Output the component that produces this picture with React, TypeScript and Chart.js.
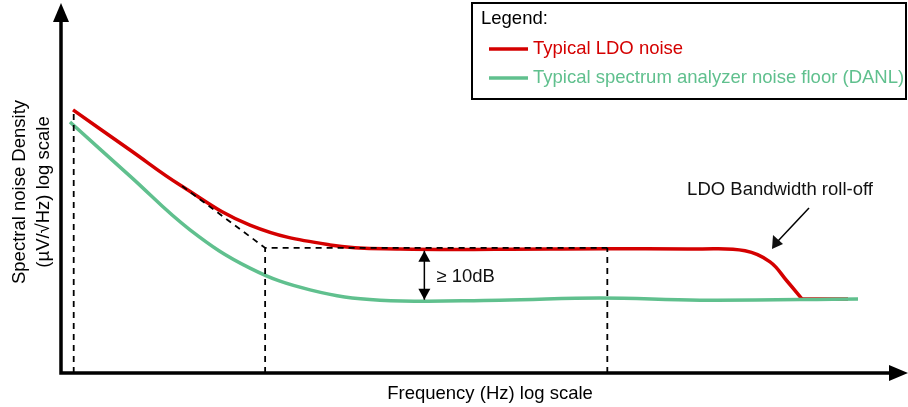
import React, { useEffect, useRef } from "react";
import { Chart, registerables } from "chart.js";

Chart.register(...registerables);

// Relative positions (log frequency, log noise density), 0..100 axis units
const ldoX = [1.42, 8.15, 14.05, 22.31, 31.76, 40.02, 57.73, 75.44, 80.76, 83.71, 85.71, 87.49, 92.92];
const ldoY = [71.5, 60.6, 51.1, 40.2, 34.8, 33.7, 33.7, 33.7, 33.2, 30.2, 25.0, 20.1, 20.1];
const danlX = [1.06, 8.15, 15.23, 22.31, 29.4, 37.66, 51.83, 63.64, 75.44, 94.1];
const danlY = [68.2, 53.5, 38.9, 28.5, 22.6, 19.8, 19.8, 20.4, 19.8, 20.1];

// Guide (dashed) lines
const guideStartX = [1.5, 1.5];
const guideStartY = [0, 71.5];
const guideAsymX = [14.3, 24.1, 64.5];
const guideAsymY = [50.8, 34.0, 34.0];
const guideCornerX = [24.1, 24.1];
const guideCornerY = [0, 34.0];
const guideEndX = [64.5, 64.5];
const guideEndY = [0, 34.0];
const marginX = [42.9, 42.9];
const marginY = [33.2, 19.9];

const seriesLabels = ["Typical LDO noise", "Typical spectrum analyzer noise floor (DANL)"];
const RED = "rgb(212,0,0)";
const GREEN = "rgb(96,192,142)";
const FONT = "'Liberation Sans', Arial, sans-serif";

const pts = (xs: number[], ys: number[]) => xs.map((x, i) => ({ x, y: ys[i] }));

export default function App() {
  const ref = useRef<HTMLCanvasElement | null>(null);
  useEffect(() => {
    document.body.style.margin = "0";
    const dash = (xs: number[], ys: number[]) => ({
      data: pts(xs, ys),
      borderColor: "#000",
      borderWidth: 1.8,
      borderDash: [6, 5],
      pointRadius: 0,
      tension: 0,
      fill: false,
    });
    const decor = {
      id: "decor",
      afterDatasetsDraw(chart: any) {
        const ctx = chart.ctx;
        const { left, bottom } = chart.chartArea;
        const xs = chart.scales.x;
        const ys = chart.scales.y;
        ctx.save();
        // axes
        ctx.strokeStyle = "#000";
        ctx.fillStyle = "#000";
        ctx.lineWidth = 3.5;
        ctx.beginPath();
        ctx.moveTo(left, 20);
        ctx.lineTo(left, bottom);
        ctx.lineTo(892, bottom);
        ctx.stroke();
        ctx.beginPath();
        ctx.moveTo(left, 3);
        ctx.lineTo(left - 8, 22);
        ctx.lineTo(left + 8, 22);
        ctx.closePath();
        ctx.fill();
        ctx.beginPath();
        ctx.moveTo(908, bottom);
        ctx.lineTo(889, bottom - 8);
        ctx.lineTo(889, bottom + 8);
        ctx.closePath();
        ctx.fill();
        // margin arrow heads
        const ax = xs.getPixelForValue(marginX[0]);
        const ay1 = ys.getPixelForValue(marginY[0]);
        const ay2 = ys.getPixelForValue(marginY[1]);
        ctx.beginPath();
        ctx.moveTo(ax, ay1);
        ctx.lineTo(ax - 6, ay1 + 11);
        ctx.lineTo(ax + 6, ay1 + 11);
        ctx.closePath();
        ctx.fill();
        ctx.beginPath();
        ctx.moveTo(ax, ay2);
        ctx.lineTo(ax - 6, ay2 - 11);
        ctx.lineTo(ax + 6, ay2 - 11);
        ctx.closePath();
        ctx.fill();
        ctx.font = `18.5px ${FONT}`;
        ctx.textBaseline = "middle";
        ctx.textAlign = "left";
        ctx.fillStyle = "#111";
        ctx.fillText("≥ 10dB", ax + 12, (ay1 + ay2) / 2 + 2);
        // roll-off annotation
        ctx.textAlign = "center";
        ctx.fillText("LDO Bandwidth roll-off", 780, 190);
        ctx.lineWidth = 1.5;
        ctx.beginPath();
        ctx.moveTo(809, 208);
        ctx.lineTo(778, 241);
        ctx.stroke();
        ctx.beginPath();
        ctx.moveTo(772, 249);
        ctx.lineTo(773, 235);
        ctx.lineTo(783, 244);
        ctx.closePath();
        ctx.fill();
        // axis titles
        ctx.fillStyle = "#000";
        ctx.fillText("Frequency (Hz) log scale", 490, 394);
        ctx.save();
        ctx.translate(20, 192);
        ctx.rotate(-Math.PI / 2);
        ctx.fillText("Spectral noise Density", 0, 0);
        ctx.fillText("(µV/√Hz) log scale", 0, 24);
        ctx.restore();
        // legend box
        ctx.lineWidth = 2;
        ctx.strokeStyle = "#000";
        ctx.fillStyle = "#fff";
        ctx.fillRect(472, 3, 434, 96);
        ctx.strokeRect(472, 3, 434, 96);
        ctx.textAlign = "left";
        ctx.fillStyle = "#000";
        ctx.fillText("Legend:", 481, 19);
        const cols = [RED, GREEN];
        [49, 78].forEach((yy, i) => {
          ctx.strokeStyle = cols[i];
          ctx.lineWidth = 3.5;
          ctx.beginPath();
          ctx.moveTo(489, yy);
          ctx.lineTo(528, yy);
          ctx.stroke();
          ctx.fillStyle = cols[i];
          ctx.fillText(seriesLabels[i], 533, yy);
        });
        ctx.restore();
      },
    };
    const n = ldoX.length;
    const chart = new Chart(ref.current as HTMLCanvasElement, {
      type: "line",
      data: {
        datasets: [
          dash(guideStartX, guideStartY),
          dash(guideAsymX, guideAsymY),
          dash(guideCornerX, guideCornerY),
          dash(guideEndX, guideEndY),
          {
            data: pts(marginX, marginY),
            borderColor: "#000",
            borderWidth: 1.5,
            pointRadius: 0,
            tension: 0,
          },
          {
            label: seriesLabels[1],
            data: pts(danlX, danlY),
            borderColor: GREEN,
            borderWidth: 3.5,
            pointRadius: 0,
            tension: 0.4,
          },
          {
            label: seriesLabels[0],
            data: pts(ldoX.slice(0, n - 1), ldoY.slice(0, n - 1)),
            borderColor: RED,
            borderWidth: 3.5,
            pointRadius: 0,
            tension: 0.4,
          },
          {
            data: pts(ldoX.slice(n - 2), ldoY.slice(n - 2)),
            borderColor: RED,
            borderWidth: 3.5,
            pointRadius: 0,
            tension: 0,
          },
        ] as any,
      },
      options: {
        animation: false,
        responsive: false,
        layout: { padding: { left: 61, right: 0, top: 5, bottom: 34 } },
        plugins: { legend: { display: false }, tooltip: { enabled: false } },
        scales: {
          x: { type: "linear", min: 0, max: 100, display: false },
          y: { type: "linear", min: 0, max: 100, display: false },
        },
      },
      plugins: [decor],
    });
    return () => chart.destroy();
  }, []);
  return <canvas ref={ref} width={908} height={407} style={{ display: "block" }} />;
}
